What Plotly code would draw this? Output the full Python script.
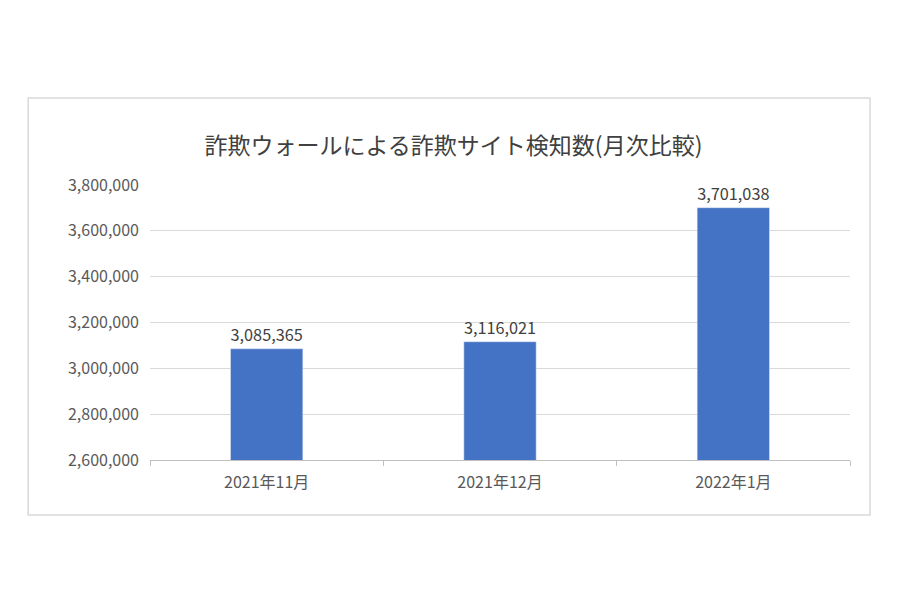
import plotly.graph_objects as go

categories = ["2021年11月", "2021年12月", "2022年1月"]
values = [3085365, 3116021, 3701038]
labels = ["3,085,365", "3,116,021", "3,701,038"]
title = "詐欺ウォールによる詐欺サイト検知数(月次比較)"

font = "Noto Sans CJK JP"
fig = go.Figure(go.Bar(
    x=categories, y=values, width=0.31, marker_color="#4472C4",
    text=labels, textposition="outside", cliponaxis=False,
    textfont=dict(size=17, color="#404040", family=font),
))
fig.update_layout(
    width=900, height=600, paper_bgcolor="white", plot_bgcolor="white",
    margin=dict(l=142, r=58, t=177, b=148),
    title=dict(text=title, x=0.495, xanchor="center", y=0.77, yanchor="middle",
               font=dict(size=23, color="#404040", family=font)),
    showlegend=False,
    font=dict(family=font, color="#595959", size=16),
)
fig.update_yaxes(range=[2600000, 3800000], dtick=200000, tickformat=",",
                 gridcolor="#d9d9d9", zeroline=False, ticks="", ticklabelstandoff=10)
fig.update_xaxes(showline=True, linecolor="#bfbfbf", ticks="outside", tickson="boundaries",
                 ticklen=5, tickcolor="#bfbfbf", ticklabelstandoff=8)
fig.add_shape(type="rect", xref="paper", yref="paper", x0=-0.174, x1=1.0286, y0=-0.2, y1=1.316,
              line=dict(color="#d9d9d9", width=1.5))
fig.write_html("out.html")
